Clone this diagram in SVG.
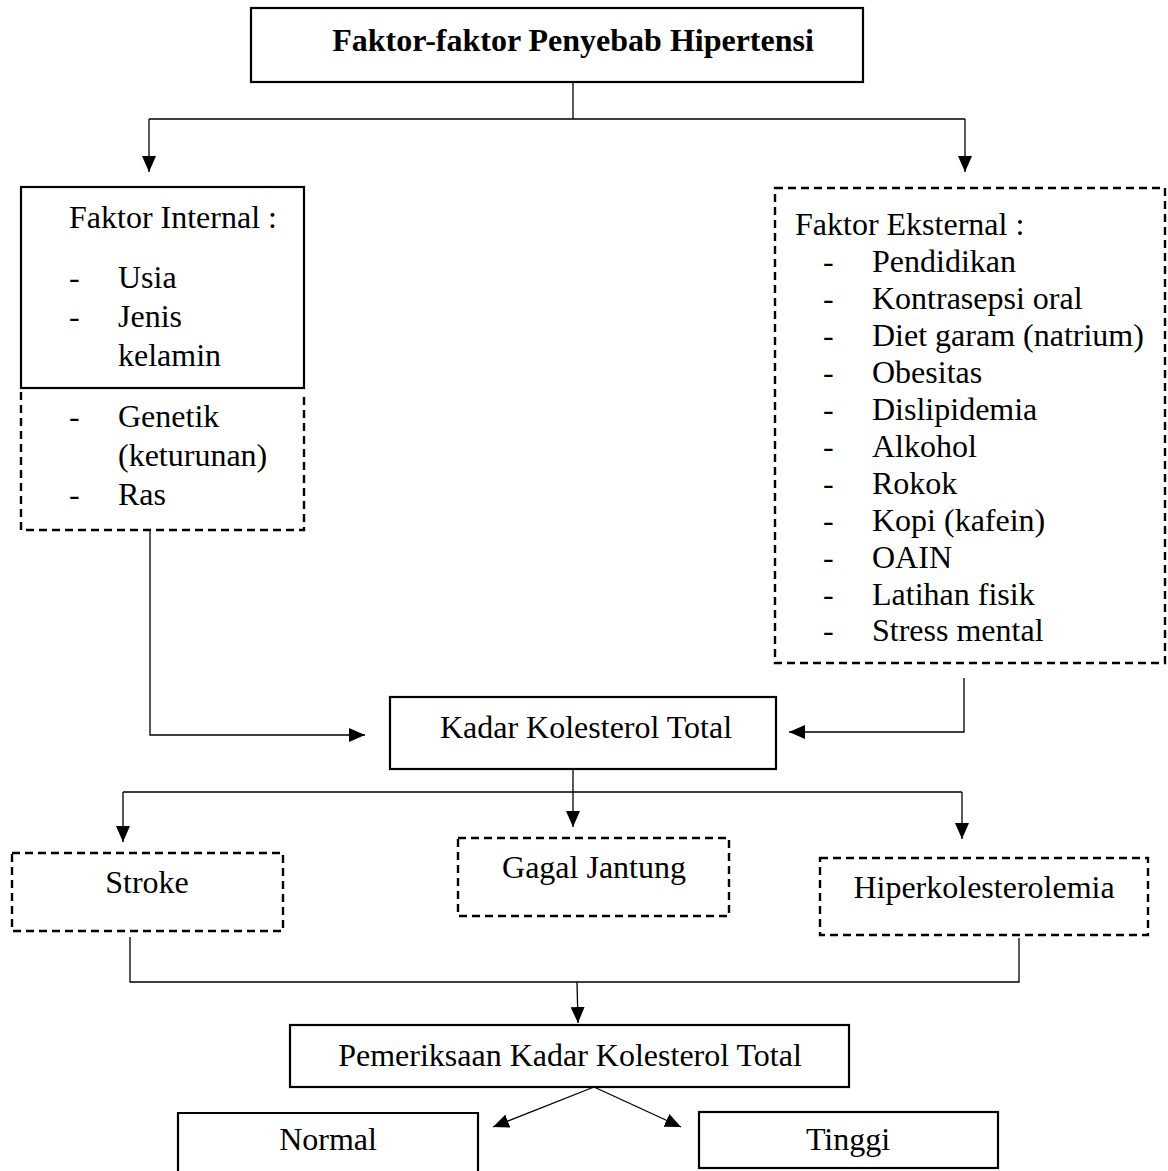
<svg xmlns="http://www.w3.org/2000/svg" width="1168" height="1171" viewBox="0 0 1168 1171">
<style>
.box{fill:none;stroke:#000;stroke-width:2.2}
.dash{fill:none;stroke:#000;stroke-width:2.4;stroke-dasharray:8 5}
.ln{fill:none;stroke:#000;stroke-width:1.3}
.arr{fill:none;stroke:#000;stroke-width:1.3;marker-end:url(#ah)}
text{font-family:"Liberation Serif","Times New Roman",serif;font-size:32px;fill:#000}
.c{text-anchor:middle}
.b{font-weight:bold}
</style>
<defs>
<marker id="ah" markerUnits="userSpaceOnUse" markerWidth="16" markerHeight="14" refX="16" refY="7" orient="auto">
<path d="M0,0 L16,7 L0,14 Z" fill="#000"/>
</marker>
</defs>
<rect width="1168" height="1171" fill="#fff"/>

<g id="connectors">
<path class="ln" d="M573,82 V119 M149,119 H965"/>
<path class="arr" d="M149,119 V172"/>
<path class="arr" d="M965,119 V172"/>
<path class="arr" d="M150,531 V735 H365"/>
<path class="arr" d="M964,678 V732 H789"/>
<path class="ln" d="M573,769 V792 M123,792 H962"/>
<path class="arr" d="M573,792 V827"/>
<path class="arr" d="M123,792 V842"/>
<path class="arr" d="M962,792 V839"/>
<path class="ln" d="M130,937 V982 H1019 V938"/>
<path class="arr" d="M577,982 L578,1023"/>
<path class="arr" d="M594,1087 L493,1127"/>
<path class="arr" d="M594,1087 L681,1127"/>
</g>

<g id="title">
<rect class="box" x="251" y="8" width="612" height="74"/>
<text class="b c" x="573" y="51">Faktor-faktor Penyebab Hipertensi</text>
</g>

<g id="internal">
<rect class="box" x="21" y="187" width="283" height="201"/>
<path class="dash" d="M21,392 V530 H304 V392"/>
<text x="69" y="228">Faktor Internal :</text>
<text x="69" y="288">-</text><text x="118" y="288">Usia</text>
<text x="69" y="327">-</text><text x="118" y="327">Jenis</text>
<text x="118" y="366">kelamin</text>
<text x="69" y="427">-</text><text x="118" y="427">Genetik</text>
<text x="118" y="466">(keturunan)</text>
<text x="69" y="505">-</text><text x="118" y="505">Ras</text>
</g>

<g id="external">
<rect class="dash" x="775" y="188" width="390" height="475"/>
<text x="795" y="235">Faktor Eksternal :</text>
<g>
<text x="823" y="272">-</text><text x="872" y="272">Pendidikan</text>
<text x="823" y="309">-</text><text x="872" y="309">Kontrasepsi oral</text>
<text x="823" y="346">-</text><text x="872" y="346">Diet garam (natrium)</text>
<text x="823" y="383">-</text><text x="872" y="383">Obesitas</text>
<text x="823" y="420">-</text><text x="872" y="420">Dislipidemia</text>
<text x="823" y="457">-</text><text x="872" y="457">Alkohol</text>
<text x="823" y="494">-</text><text x="872" y="494">Rokok</text>
<text x="823" y="531">-</text><text x="872" y="531">Kopi (kafein)</text>
<text x="823" y="568">-</text><text x="872" y="568">OAIN</text>
<text x="823" y="605">-</text><text x="872" y="605">Latihan fisik</text>
<text x="823" y="641">-</text><text x="872" y="641">Stress mental</text>
</g>
</g>

<g id="kadar">
<rect class="box" x="390" y="697" width="386" height="72"/>
<text class="c" x="586" y="738">Kadar Kolesterol Total</text>
</g>

<g id="stroke">
<rect class="dash" x="12" y="853" width="271" height="78"/>
<text class="c" x="147" y="893">Stroke</text>
</g>

<g id="gagal">
<rect class="dash" x="458" y="838" width="271" height="78"/>
<text class="c" x="594" y="878">Gagal Jantung</text>
</g>

<g id="hiper">
<rect class="dash" x="820" y="858" width="328" height="77"/>
<text class="c" x="984" y="898">Hiperkolesterolemia</text>
</g>

<g id="pemeriksaan">
<rect class="box" x="290" y="1025" width="559" height="62"/>
<text class="c" x="570" y="1066">Pemeriksaan Kadar Kolesterol Total</text>
</g>

<g id="normal">
<path class="box" d="M178,1175 V1113 H478 V1175"/>
<text class="c" x="328" y="1150">Normal</text>
</g>

<g id="tinggi">
<rect class="box" x="699" y="1112" width="299" height="56"/>
<text class="c" x="848" y="1150">Tinggi</text>
</g>
</svg>
